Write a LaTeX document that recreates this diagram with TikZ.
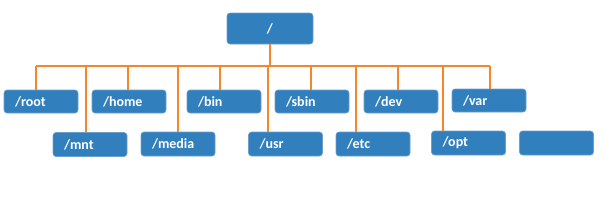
\documentclass[tikz,border=0pt]{standalone}
\usepackage{fontspec}
\setmainfont{Carlito}
\definecolor{dirblue}{HTML}{3180BD}
\definecolor{diredge}{HTML}{6E9FCB}
\definecolor{busorange}{HTML}{F7862A}
\tikzset{
  dir box/.style={
    rectangle, rounded corners=3pt,
    fill=dirblue, draw=diredge, line width=0.6pt,
    text=white, font=\bfseries\fontsize{14}{16}\selectfont,
    text width=52pt, inner xsep=11pt, inner ysep=0pt,
    align=left, minimum height=23pt,
  },
  top box/.style={
    dir box, text width=70pt, inner xsep=8pt,
    minimum height=31pt, align=center,
  },
  bus line/.style={
    draw=busorange, line width=2pt,
  },
}

\begin{document}
\begin{tikzpicture}[x=1pt, y=-1pt]
\useasboundingbox (0,0) rectangle (609,207);

% root of the tree
\node [top box] (top) at (270,28.5) {/};
\coordinate (busL) at (36,66);
\coordinate (busR) at (490,66);

% first row
\node [dir box] (rootd) at (41,101.5)  {/root};
\node [dir box] (home)  at (129,101.5) {/home};
\node [dir box] (bin)   at (224,101.5) {/bin};
\node [dir box] (sbin)  at (312,101.5) {/sbin};
\node [dir box] (dev)   at (401,101.5) {/dev};
\node [dir box] (var)   at (489,100.5) {/var};

% second row
\node [dir box, minimum height=24pt] (mnt)   at (90,144.5)  {/mnt};
\node [dir box, minimum height=24pt] (media) at (178,144)   {/media};
\node [dir box, minimum height=24pt] (usr)   at (285.5,144) {/usr};
\node [dir box, minimum height=24pt] (etc)   at (373,144)   {/etc};
\node [dir box, minimum height=24pt] (opt)   at (468.5,143) {/opt};
\node [dir box, minimum height=24pt] (blank) at (556.5,143) {};

% connectors
\draw [bus line] (busL) -- (busR);
\draw [bus line] (top.south) -- (top.south |- busL);
\foreach \n/\dx in {rootd/32, home/36, bin/33, sbin/36, dev/34, var/38,
                    mnt/33, media/37, usr/20, etc/20, opt/12}
  \draw [bus line] ([xshift=\dx pt]\n.north west) -- ([xshift=\dx pt]\n.north west |- busL);
\end{tikzpicture}
\end{document}
